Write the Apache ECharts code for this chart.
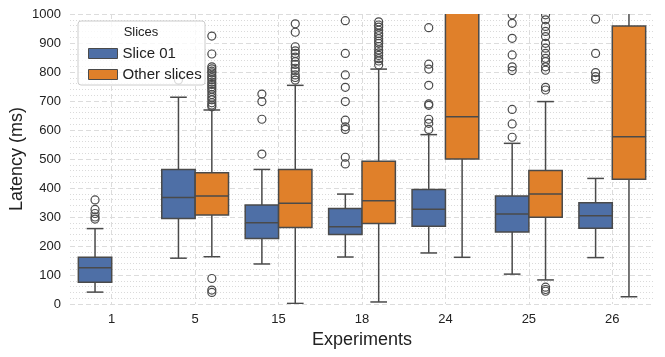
<!DOCTYPE html>
<html lang="en">
<head>
    <meta charset="UTF-8">
    <title>Latency</title>
    <script src="https://cdn.jsdelivr.net/npm/echarts@6/dist/echarts.min.js"></script>
</head>
<style>
    *{
        margin: 0;
        padding: 0;
    }
    html,body{
        width: 100%;
        height: 100%;
        overflow: hidden;
        background: #fff;
    }
    .container{
        width: 665px;
        height: 357px;
    }
</style>
<body>
<div class="container"></div>
<script>
    let categories = ['1', '5', '15', '18', '24', '25', '26'];
    let yTicks = [0, 1000, 100];

    // [low, q1, median, q3, high] per experiment
    let slice01Box = [
        [41, 75, 125, 161, 260],
        [158, 295, 367, 464, 713],
        [138, 226, 280, 341, 464],
        [162, 240, 266, 329, 379],
        [176, 268, 327, 395, 584],
        [103, 248, 310, 372, 554],
        [160, 261, 304, 349, 433]
    ];
    let otherBox = [
        null,
        [163, 307, 372, 453, 669],
        [2, 264, 347, 464, 754],
        [7, 278, 356, 492, 810],
        [161, 500, 646, 1150, 1450],
        [83, 299, 379, 460, 698],
        [25, 430, 577, 959, 1400]
    ];

    // outliers, one list per experiment
    let slice01Out = [
        [359, 326, 312, 300, 293],
        [772],
        [724, 698, 637, 517],
        [977, 864, 790, 747, 698, 634, 611, 602, 506, 483],
        [953, 827, 810, 754, 690, 685, 637, 623, 602],
        [997, 968, 916, 859, 818, 805, 671, 621, 575],
        [982, 864, 798, 784, 775]
    ];
    let otherOut = [
        [],
        [924, 862, 818, 811, 803, 797, 788, 781, 774, 765, 757, 749, 741, 733, 722, 713, 704, 694, 686, 680, 88, 48, 40],
        [966, 937, 887, 873, 864, 851, 836, 826, 813, 804, 790, 781, 772],
        [973, 962, 955, 944, 933, 925, 915, 906, 899, 888, 876, 866, 857, 846, 838, 824],
        [],
        [997, 980, 957, 940, 922, 899, 882, 864, 847, 836, 818, 806, 747, 738, 58, 50, 44],
        []
    ];

    let blue = '#4e6fa6';
    let orange = '#e0802a';
    let edge = '#4a4a4a';

    function boxData(list) {
        let out = [];
        list.forEach((b, i) => {
            if (b) out.push([i].concat(b));
        });
        return out;
    }
    function outData(list) {
        let out = [];
        list.forEach((vals, i) => {
            vals.forEach(v => out.push([i, v]));
        });
        return out;
    }

    function boxRenderer(dir, color) {
        return function (params, api) {
            let x = api.value(0);
            let band = api.size([1, 0])[0];
            let w = band * 0.4;
            let cx = api.coord([x, 0])[0] + dir * w / 2;
            let y = [1, 2, 3, 4, 5].map(k => api.coord([x, api.value(k)])[1]);
            let ls = {stroke: edge, lineWidth: 1.5};
            return {
                type: 'group',
                children: [
                    {type: 'line', shape: {x1: cx, y1: y[4], x2: cx, y2: y[3]}, style: ls},
                    {type: 'line', shape: {x1: cx, y1: y[1], x2: cx, y2: y[0]}, style: ls},
                    {type: 'line', shape: {x1: cx - w / 4, y1: y[4], x2: cx + w / 4, y2: y[4]}, style: ls},
                    {type: 'line', shape: {x1: cx - w / 4, y1: y[0], x2: cx + w / 4, y2: y[0]}, style: ls},
                    {type: 'rect', shape: {x: cx - w / 2, y: y[3], width: w, height: y[1] - y[3]},
                        style: {fill: color, stroke: edge, lineWidth: 1.5}},
                    {type: 'line', shape: {x1: cx - w / 2, y1: y[2], x2: cx + w / 2, y2: y[2]}, style: ls}
                ]
            };
        };
    }
    function outRenderer(dir) {
        return function (params, api) {
            let band = api.size([1, 0])[0];
            let w = band * 0.4;
            let p = api.coord([api.value(0), api.value(1)]);
            return {
                type: 'circle',
                shape: {cx: p[0] + dir * w / 2, cy: p[1], r: 4},
                style: {fill: 'none', stroke: edge, lineWidth: 1.2}
            };
        };
    }

    let container = document.querySelector('.container');
    let mycharts = echarts.init(container);
    let font = 'Liberation Sans';

    let option = {
        animation: false,
        color: [blue, orange],
        textStyle: {fontFamily: font},
        grid: {left: 70, right: 11, top: 14, bottom: 53, outerBoundsMode: 'none'},
        xAxis: {
            type: 'category',
            data: categories,
            name: 'Experiments',
            nameLocation: 'middle',
            nameGap: 27,
            nameMoveOverlap: false,
            nameTextStyle: {fontSize: 18, color: '#222', fontFamily: font},
            axisLine: {show: false},
            axisTick: {show: false},
            axisLabel: {fontSize: 13, color: '#222', margin: 9, fontFamily: font},
            splitLine: {show: true, alignWithLabel: true, lineStyle: {color: '#dcdcdc', type: [5, 3], width: 1}}
        },
        yAxis: {
            type: 'value',
            min: yTicks[0],
            max: yTicks[1],
            interval: yTicks[2],
            name: 'Latency (ms)',
            nameLocation: 'middle',
            nameRotate: 90,
            nameGap: 44,
            nameMoveOverlap: false,
            nameTextStyle: {fontSize: 18, color: '#222', fontFamily: font},
            axisLine: {show: false},
            axisTick: {show: false},
            axisLabel: {fontSize: 13, color: '#222', margin: 9, fontFamily: font, formatter: v => String(v)},
            splitLine: {show: true, lineStyle: {color: '#dcdcdc', type: [5, 3], width: 1}},
            minorTick: {show: false, splitNumber: 5},
            minorSplitLine: {show: true, lineStyle: {color: '#dadada', type: [1, 2], width: 1}}
        },
        legend: {
            data: ['Slice 01', 'Other slices'],
            orient: 'vertical',
            left: 83,
            top: 41,
            itemWidth: 29,
            itemHeight: 10,
            itemGap: 6,
            icon: 'rect',
            itemStyle: {borderColor: edge, borderWidth: 1},
            textStyle: {fontSize: 15, color: '#222', fontFamily: font},
            z: 5
        },
        graphic: [
            {type: 'rect', z: 3, shape: {x: 78, y: 21, width: 127, height: 64, r: 3},
                style: {fill: 'rgba(255,255,255,0.8)', stroke: '#cccccc', lineWidth: 1}},
            {type: 'text', z: 4, x: 141, y: 32,
                style: {text: 'Slices', fontSize: 13, fill: '#222', fontFamily: font, align: 'center', verticalAlign: 'middle'}}
        ],
        series: [
            {name: 'Slice 01', type: 'custom', clip: true, itemStyle: {color: blue},
                renderItem: boxRenderer(-1, blue), data: boxData(slice01Box), encode: {x: 0, y: [1, 2, 3, 4, 5]}},
            {name: 'Other slices', type: 'custom', clip: true, itemStyle: {color: orange},
                renderItem: boxRenderer(1, orange), data: boxData(otherBox), encode: {x: 0, y: [1, 2, 3, 4, 5]}},
            {name: 'Slice 01 outliers', type: 'custom', clip: true,
                renderItem: outRenderer(-1), data: outData(slice01Out), encode: {x: 0, y: 1}},
            {name: 'Other slices outliers', type: 'custom', clip: true,
                renderItem: outRenderer(1), data: outData(otherOut), encode: {x: 0, y: 1}}
        ]
    };

    mycharts.setOption(option);
</script>
</body>
</html>
